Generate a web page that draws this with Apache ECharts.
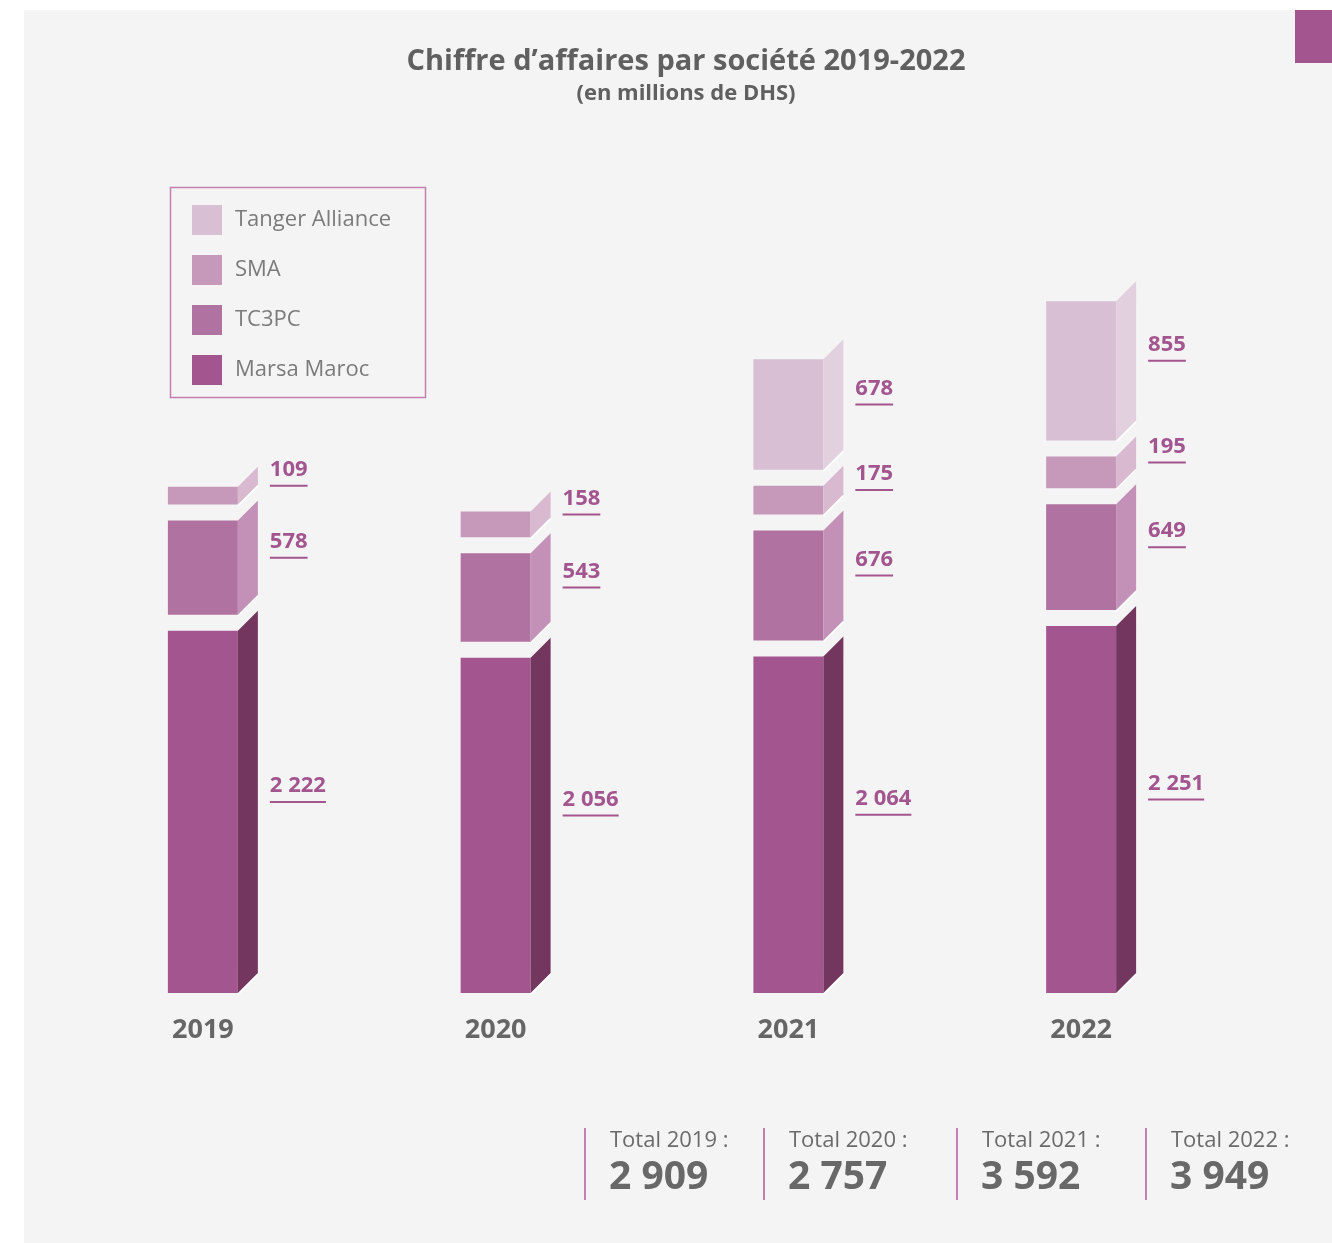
<!DOCTYPE html>
<html>
<head>
<meta charset="utf-8">
<script src="https://cdn.jsdelivr.net/npm/echarts@6/dist/echarts.min.js"></script>
<style>
html,body{margin:0;padding:0;background:#ffffff;}
#chart{width:1332px;height:1243px;}
</style>
</head>
<body>
<div id="chart"></div>
<script>
// ---- data ----
const years = ['2019', '2020', '2021', '2022'];
const marsaMaroc = [2222, 2056, 2064, 2251];
const tc3pc = [578, 543, 676, 649];
const sma = [109, 158, 175, 195];
const tangerAlliance = [null, null, 678, 855];
const totals = [2909, 2757, 3592, 3949];
const legendOrder = ['Tanger Alliance', 'SMA', 'TC3PC', 'Marsa Maroc'];

// ---- styling ----
const FONT = '"Open Sans", "Noto Sans", sans-serif';
const stackDefs = [
  { name: 'Marsa Maroc', values: marsaMaroc, front: '#a3558f', side: '#73375f' },
  { name: 'TC3PC', values: tc3pc, front: '#b072a0', side: '#c391b7' },
  { name: 'SMA', values: sma, front: '#c699ba', side: '#d8b9d0' },
  { name: 'Tanger Alliance', values: tangerAlliance, front: '#d9bfd3', side: '#e3d0df' }
];

function fmt(n) { return String(n).replace(/\B(?=(\d{3})+(?!\d))/g, ' '); }

const measureCtx = document.createElement('canvas').getContext('2d');
function textWidth(str, font) { measureCtx.font = font; return measureCtx.measureText(str).width; }

const LABEL_FONT_SIZE = 22;
const LABEL_FONT = 'bold ' + LABEL_FONT_SIZE + 'px ' + FONT;
const DEPTH = 20, GAP = 16, BAR_RATIO = 0.239;

function makeRender(def) {
  return function (params, api) {
    const c = api.value(0), v = api.value(1), base = api.value(2), nb = api.value(3);
    const pb = api.coord([c, base]);
    const pt = api.coord([c, base + v]);
    const band = api.size([1, 0])[0];
    const w = band * BAR_RATIO;
    const yB = pb[1] - nb * GAP, yT = pt[1] - nb * GAP;
    const xL = pb[0] - w / 2, xR = pb[0] + w / 2;
    const label = fmt(v);
    const lx = xR + 32;
    const ly = (yT + yB) / 2 - DEPTH - 6;
    const tw = textWidth(label, LABEL_FONT);
    return {
      type: 'group',
      children: [
        { type: 'rect', shape: { x: xL, y: yT, width: w, height: yB - yT }, style: { fill: def.front } },
        { type: 'polygon', shape: { points: [[xR, yT], [xR + DEPTH, yT - DEPTH], [xR + DEPTH, yB - DEPTH], [xR, yB]] }, style: { fill: def.side } },
        { type: 'polyline', shape: { points: [[xR, yB + 1.5], [xR + DEPTH, yB - DEPTH + 1.5]] }, style: { stroke: '#ffffff', lineWidth: 1.5, fill: null } },
        { type: 'text', x: lx, y: ly, style: { text: label, fill: '#a3558f', font: LABEL_FONT, textAlign: 'left', textVerticalAlign: 'middle' } },
        { type: 'line', shape: { x1: lx, y1: ly + 16, x2: lx + tw, y2: ly + 16 }, style: { stroke: '#a3558f', lineWidth: 2 } }
      ]
    };
  };
}

const series = stackDefs.map(function (def, j) {
  const data = [];
  years.forEach(function (y, c) {
    const v = def.values[c];
    if (v == null) return;
    let base = 0, nb = 0;
    for (let k = 0; k < j; k++) {
      const pv = stackDefs[k].values[c];
      if (pv != null) { base += pv; nb++; }
    }
    data.push([c, v, base, nb]);
  });
  return {
    type: 'custom',
    name: def.name,
    clip: false,
    itemStyle: { color: def.front },
    encode: { x: 0, y: 1 },
    renderItem: makeRender(def),
    data: data
  };
});

// totals block
const totalLineX = [585, 764, 957, 1146];
const graphics = [
  { type: 'rect', z: -10, shape: { x: 24, y: 10, width: 1308, height: 1233 }, style: { fill: '#f4f4f4' } },
  { type: 'rect', shape: { x: 1295, y: 10, width: 37, height: 53 }, style: { fill: '#a3558f' } },
  { type: 'rect', shape: { x: 170.5, y: 187.5, width: 255, height: 210 }, style: { fill: null, stroke: '#c27fb0', lineWidth: 1.5 } },
  { type: 'text', x: 686, y: 62, style: { text: 'Chiffre d\u2019affaires par soci\u00e9t\u00e9 2019-2022', font: 'bold 29px ' + FONT, fill: '#606060', textAlign: 'center', textVerticalAlign: 'middle' } },
  { type: 'text', x: 686, y: 94, style: { text: '(en millions de DHS)', font: 'bold 22px ' + FONT, fill: '#606060', textAlign: 'center', textVerticalAlign: 'middle' } }
];
years.forEach(function (y, i) {
  const x = totalLineX[i];
  graphics.push({ type: 'line', shape: { x1: x, y1: 1128, x2: x, y2: 1200 }, style: { stroke: '#c27fb0', lineWidth: 2 } });
  graphics.push({ type: 'text', x: x + 25, y: 1141, style: { text: 'Total ' + y + ' :', font: '22px ' + FONT, fill: '#6b6b6b', textAlign: 'left', textVerticalAlign: 'middle' } });
  graphics.push({ type: 'text', x: x + 24, y: 1178, style: { text: fmt(totals[i]), font: 'bold 39px ' + FONT, fill: '#686868', textAlign: 'left', textVerticalAlign: 'middle' } });
});

const chart = echarts.init(document.getElementById('chart'), null, { renderer: 'canvas' });
chart.setOption({
  backgroundColor: '#ffffff',
  animation: false,
  grid: { left: 56.5, right: 104.5, top: 341, bottom: 250 },
  xAxis: {
    type: 'category',
    data: years,
    axisLine: { show: false },
    axisTick: { show: false },
    axisLabel: { margin: 24, fontSize: 27, fontWeight: 'bold', color: '#666666', fontFamily: FONT }
  },
  yAxis: { type: 'value', min: 0, max: 4000, show: false, splitLine: { show: false } },
  legend: {
    data: legendOrder,
    orient: 'vertical',
    left: 192,
    top: 205,
    itemWidth: 30,
    itemHeight: 30,
    itemGap: 20,
    icon: 'rect',
    padding: 0,
    textStyle: { fontSize: 22, color: '#7b7b7b', fontFamily: FONT, padding: [0, 0, 0, 8] }
  },
  graphic: graphics,
  series: series
});
</script>
</body>
</html>
